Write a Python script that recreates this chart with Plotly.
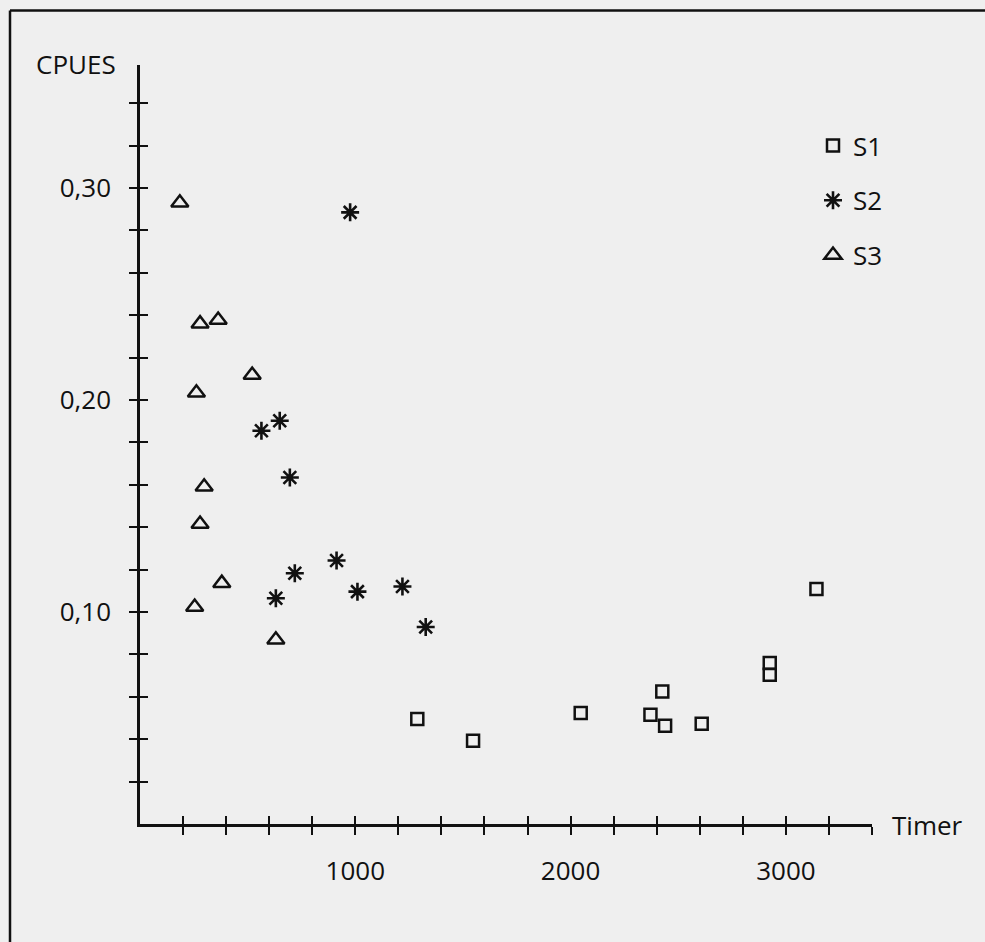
import plotly.graph_objects as go

# ---- data ----
s1_x = [1288, 1547, 2047, 2371, 2439, 2426, 2609, 2925, 2925, 3142]
s1_y = [0.0495, 0.0393, 0.0523, 0.0515, 0.0463, 0.0625, 0.0473, 0.0704, 0.0759, 0.1109]

s2_x = [976, 564, 649, 696, 719, 631, 913, 1010, 1219, 1327]
s2_y = [0.2885, 0.1855, 0.1902, 0.1634, 0.1183, 0.1065, 0.1243, 0.1096, 0.1120, 0.0929]

s3_x = [185, 279, 363, 521, 262, 298, 279, 380, 254, 631]
s3_y = [0.2930, 0.2360, 0.2377, 0.2118, 0.2034, 0.1591, 0.1415, 0.1136, 0.1023, 0.0869]

series_names = ["S1", "S2", "S3"]

x_tickvals = list(range(200, 3401, 200))
x_ticktext = [str(v) if v % 1000 == 0 else "" for v in x_tickvals]
y_tickvals = [round(0.02 * i, 2) for i in range(1, 18)]
y_ticktext = [("%.2f" % v).replace(".", ",") if abs(v * 100 % 10) < 1e-6 else "" for v in y_tickvals]

x_label = "Timer"
y_label = "CPUES"

# ---- style ----
FONT = "Open Sans"
INK = "#111111"
BG = "#efefef"
X_RANGE = [0, 3400]
Y_RANGE = [0, 0.358]
FS = 26

W, H = 985, 942
ML, MR, MT, MB = 140, 113, 65, 118
PW = W - ML - MR
PH = H - MT - MB


def px_to_paper_x(px):
    return (px - ML) / PW


def px_to_paper_y(py):
    return (H - MB - py) / PH


fig = go.Figure()
fig.add_trace(go.Scatter(
    x=s1_x, y=s1_y, mode="markers", name=series_names[0], legendgroup="g1",
    marker=dict(symbol="square-open", size=12, color=INK, line=dict(width=2.5, color=INK)),
))
fig.add_trace(go.Scatter(
    x=s2_x, y=s2_y, mode="markers", name=series_names[1], legendgroup="g2",
    marker=dict(symbol="asterisk-open", size=15, color=INK, line=dict(width=2.6, color=INK)),
))
fig.add_trace(go.Scatter(
    x=s3_x, y=s3_y, mode="markers", name=series_names[2], legendgroup="g3",
    xaxis="x2", yaxis="y2",
    marker=dict(symbol="triangle-up-open", size=15, color=INK, line=dict(width=2.5, color=INK)),
))

axis_font = dict(family=FONT, size=FS, color=INK)

fig.update_layout(
    width=W, height=H,
    margin=dict(l=ML, r=MR, t=MT, b=MB, autoexpand=False),
    paper_bgcolor=BG, plot_bgcolor=BG,
    font=dict(family=FONT, size=FS, color=INK),
    showlegend=True,
    legend=dict(
        x=px_to_paper_x(813), y=px_to_paper_y(122), xanchor="left", yanchor="top",
        bgcolor="rgba(0,0,0,0)", borderwidth=0,
        font=dict(family=FONT, size=FS, color=INK),
        tracegroupgap=18, itemwidth=30,
    ),
    xaxis=dict(
        range=X_RANGE, showgrid=False, zeroline=False,
        showline=True, linecolor=INK, linewidth=2.5,
        tickmode="array", tickvals=x_tickvals, ticktext=x_ticktext,
        ticks="outside", ticklen=8, tickwidth=2, tickcolor=INK,
        tickfont=axis_font, ticklabelstandoff=14,
    ),
    yaxis=dict(
        range=Y_RANGE, showgrid=False, zeroline=False,
        showline=True, linecolor=INK, linewidth=2.5,
        tickmode="array", tickvals=y_tickvals, ticktext=y_ticktext,
        ticks="outside", ticklen=8, tickwidth=2, tickcolor=INK,
        tickfont=axis_font, ticklabelstandoff=13,
    ),
    xaxis2=dict(
        overlaying="x", anchor="y", side="bottom", matches="x",
        range=X_RANGE, showgrid=False, zeroline=False, showline=False,
        tickmode="array", tickvals=x_tickvals, showticklabels=False,
        ticks="inside", ticklen=8, tickwidth=2, tickcolor=INK,
    ),
    yaxis2=dict(
        overlaying="y", anchor="x", side="left", matches="y",
        range=Y_RANGE, showgrid=False, zeroline=False, showline=False,
        tickmode="array", tickvals=y_tickvals, showticklabels=False,
        ticks="inside", ticklen=8, tickwidth=2, tickcolor=INK,
    ),
    annotations=[
        dict(text=y_label, xref="paper", yref="paper",
             x=px_to_paper_x(118), y=px_to_paper_y(64), xanchor="right", yanchor="middle",
             showarrow=False, font=dict(family=FONT, size=FS, color=INK)),
        dict(text=x_label, xref="paper", yref="paper",
             x=px_to_paper_x(890), y=px_to_paper_y(825), xanchor="left", yanchor="middle",
             showarrow=False, font=dict(family=FONT, size=FS, color=INK)),
    ],
    shapes=[
        dict(type="line", xref="paper", yref="paper",
             x0=px_to_paper_x(10), x1=px_to_paper_x(10),
             y0=px_to_paper_y(945), y1=px_to_paper_y(10.5),
             line=dict(color=INK, width=2.5)),
        dict(type="line", xref="paper", yref="paper",
             x0=px_to_paper_x(10), x1=px_to_paper_x(990),
             y0=px_to_paper_y(10.5), y1=px_to_paper_y(10.5),
             line=dict(color=INK, width=2.5)),
    ],
)

fig.write_html("out.html")
